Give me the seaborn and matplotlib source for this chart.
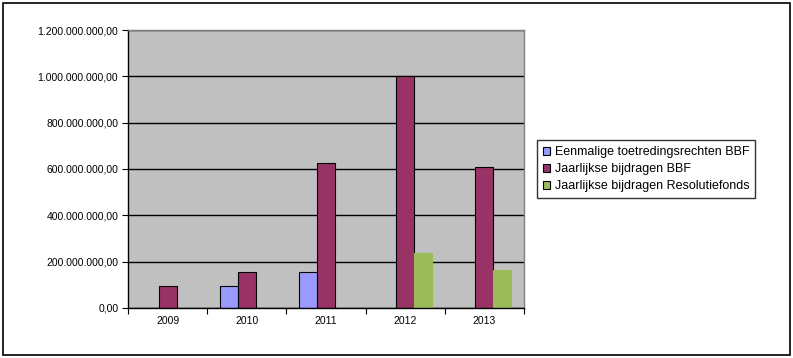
import numpy as np
import pandas as pd
import matplotlib
matplotlib.use("Agg")
import matplotlib.pyplot as plt
import seaborn as sns
from matplotlib.ticker import FuncFormatter, FixedLocator
from matplotlib.patches import Rectangle

years = ["2009", "2010", "2011", "2012", "2013"]
series = ["Eenmalige toetredingsrechten BBF", "Jaarlijkse bijdragen BBF",
          "Jaarlijkse bijdragen Resolutiefonds"]
eenmalig = [np.nan, 95e6, 155e6, np.nan, np.nan]
jaarlijks_bbf = [95e6, 155e6, 626e6, 1000e6, 608e6]
resolutiefonds = [np.nan, np.nan, np.nan, 238e6, 165e6]
colors = ["#9999FF", "#993366", "#9BBB59"]

df = pd.DataFrame({
    "jaar": years * 3,
    "reeks": [series[0]] * 5 + [series[1]] * 5 + [series[2]] * 5,
    "waarde": eenmalig + jaarlijks_bbf + resolutiefonds,
}).dropna()

plt.rcParams["font.family"] = ["Liberation Sans", "DejaVu Sans"]

fig = plt.figure(figsize=(7.93, 3.58), dpi=100)
ax = fig.add_axes([0.1614, 0.1397, 0.4994, 0.7765])
ax.set_facecolor("#C0C0C0")

sns.barplot(data=df, x="jaar", y="waarde", hue="reeks", order=years,
            hue_order=series, palette=colors, width=0.68, saturation=1,
            edgecolor="black", linewidth=0.8, legend=True, ax=ax)

# green bars have no outline
for bar in ax.containers[2]:
    bar.set_edgecolor(colors[2])

ax.set_ylim(0, 1.2e9)
ax.set_xlim(-0.5, 4.5)
ax.set_yticks(np.arange(0, 1.2e9 + 1, 2e8))
ax.yaxis.set_major_formatter(FuncFormatter(
    lambda v, p: "{:,.2f}".format(v).replace(",", "#").replace(".", ",").replace("#", ".")))
ax.grid(axis="y", color="black", linewidth=1)
ax.set_axisbelow(True)
ax.set_xlabel("")
ax.set_ylabel("")

ax.xaxis.set_major_locator(FixedLocator(np.arange(-0.5, 5, 1)))
ax.xaxis.set_minor_locator(FixedLocator(np.arange(5)))
ax.set_xticklabels([""] * 6)
ax.set_xticklabels(years, minor=True)
ax.tick_params(axis="x", which="major", length=4, direction="out", color="black")
ax.tick_params(axis="x", which="minor", length=0, labelsize=7.5, pad=6)
ax.tick_params(axis="y", length=4, direction="out", labelsize=7.5, pad=3)

for s in ["left", "bottom"]:
    ax.spines[s].set_color("black")
    ax.spines[s].set_linewidth(1)
for s in ["top", "right"]:
    ax.spines[s].set_color("#808080")
    ax.spines[s].set_linewidth(1)

handles, labels = ax.get_legend_handles_labels()
ax.legend(handles, labels, loc="center left", bbox_to_anchor=(1.033, 0.5),
          fontsize=9, frameon=True, fancybox=False, edgecolor="black",
          handlelength=0.6, handleheight=0.6, handletextpad=0.35,
          borderpad=0.45, labelspacing=0.4, borderaxespad=0)
ax.get_legend().get_frame().set_linewidth(1)

fig.patches.append(Rectangle((0.004, 0.008), 0.992, 0.984, transform=fig.transFigure,
                             fill=False, edgecolor="black", linewidth=1.2))

fig.savefig("out.png", dpi=100)
